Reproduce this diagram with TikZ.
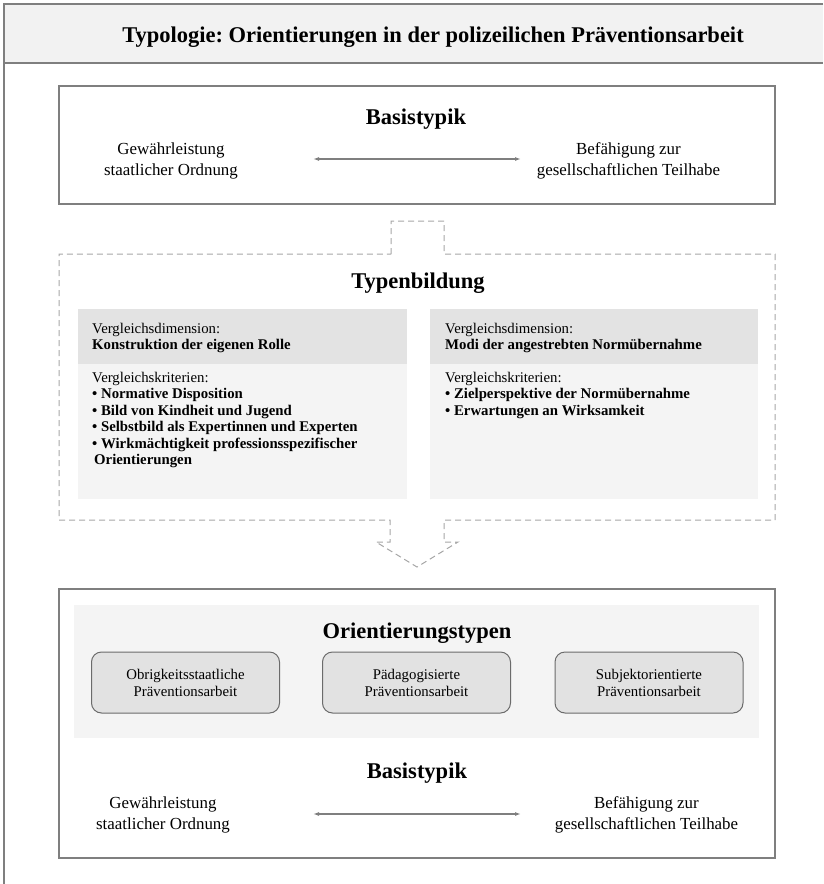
\documentclass[tikz,border=0pt]{standalone}
\usepackage{fontspec}
\setmainfont{Liberation Serif}
\usetikzlibrary{arrows.meta}
\frenchspacing
\definecolor{headgrey}{HTML}{F2F2F2}
\definecolor{linegrey}{HTML}{7F7F7F}
\definecolor{dashgrey}{HTML}{A6A6A6}
\definecolor{dimgrey}{HTML}{E3E3E3}
\definecolor{critgrey}{HTML}{F4F4F4}
\definecolor{typgrey}{HTML}{E2E2E2}
\definecolor{typline}{HTML}{6B6B6B}
\begin{document}
\begin{tikzpicture}[x=1pt, y=-1pt,
  heading/.style={font=\fontsize{22.5}{27}\selectfont\bfseries, inner sep=0pt, anchor=base},
  side/.style={font=\fontsize{16.9}{21}\selectfont, align=center, inner sep=0pt},
  paneltext/.style={font=\fontsize{14.8}{16.5}\selectfont, align=left, anchor=north west, inner sep=0pt},
  typbox/.style={draw=typline, fill=typgrey, line width=1pt, rounded corners=10pt, minimum width=188pt, minimum height=61pt, align=center, font=\fontsize{14.8}{17}\selectfont},
  frame/.style={draw=linegrey, line width=1.2pt},
  dashframe/.style={draw=dashgrey, line width=1pt, dash pattern=on 6pt off 4pt},
  both/.style={{Latex[length=6pt,width=4pt]}-{Latex[length=6pt,width=4pt]}, draw=linegrey, line width=1.2pt}]
\useasboundingbox (0,0) rectangle (823,884);

\fill[headgrey] (4,4) rectangle (823,63);
\draw[frame] (823,4) -- (4,4) -- (4,884);
\draw[frame] (4,63) -- (823,63);
\node[heading] (title) at (433,42) {Typologie: Orientierungen in der polizeilichen Präventionsarbeit};

\draw[frame] (59,86) rectangle (775,204);
\node[heading] (basis1) at (416,124) {Basistypik};
\node[side] (ordnung1) at (171,160.6) {Gewährleistung\\staatlicher Ordnung};
\node[side] (teilhabe1) at (628.5,160.6) {Befähigung zur\\gesellschaftlichen Teilhabe};
\coordinate (pol1) at (313,159);
\coordinate (pol2) at (521,159);
\draw[both] (pol1) to (pol2);

\draw[dashframe] (391,254) -- (391,221) -- (444,221) -- (444,254) -- (775,254) -- (775,520)
  -- (444,520) -- (444,542) -- (458,542) -- (417,567) -- (376,542) -- (390,542) -- (390,520)
  -- (59,520) -- (59,254) -- cycle;
\node[heading] (typen) at (418,288) {Typenbildung};

\fill[dimgrey] (78,309) rectangle (407,364);
\fill[critgrey] (78,364) rectangle (407,499);
\fill[dimgrey] (430,309) rectangle (758,364);
\fill[critgrey] (430,364) rectangle (758,499);
\node[paneltext] (dimA) at (92,323) {Vergleichsdimension:\\\textbf{Konstruktion der eigenen Rolle}};
\node[paneltext] (kritA) at (92,372) {Vergleichskriterien:\\\textbf{• Normative Disposition}\\\textbf{• Bild von Kindheit und Jugend}\\\textbf{• Selbstbild als Expertinnen und Experten}\\\textbf{• Wirkmächtigkeit professionsspezifischer}\\\hspace*{2pt}\textbf{Orientierungen}};
\node[paneltext] (dimB) at (445,323) {Vergleichsdimension:\\\textbf{Modi der angestrebten Normübernahme}};
\node[paneltext] (kritB) at (445,372) {Vergleichskriterien:\\\textbf{• Zielperspektive der Normübernahme}\\\textbf{• Erwartungen an Wirksamkeit}};

\draw[frame] (59,589) rectangle (775,858);
\fill[critgrey] (74,605) rectangle (759,738);
\node[heading] (orient) at (417,638) {Orientierungstypen};
\node[typbox] (obrig) at (185.5,682.5) {Obrigkeitsstaatliche\\Präventionsarbeit};
\node[typbox] (paed) at (416.5,682.5) {Pädagogisierte\\Präventionsarbeit};
\node[typbox] (subj) at (649,682.5) {Subjektorientierte\\Präventionsarbeit};

\node[heading] (basis2) at (417,778) {Basistypik};
\node[side] (ordnung2) at (163,814.6) {Gewährleistung\\staatlicher Ordnung};
\node[side] (teilhabe2) at (646.5,814.6) {Befähigung zur\\gesellschaftlichen Teilhabe};
\coordinate (pol3) at (313,814);
\coordinate (pol4) at (521,814);
\draw[both] (pol3) to (pol4);
\end{tikzpicture}
\end{document}
